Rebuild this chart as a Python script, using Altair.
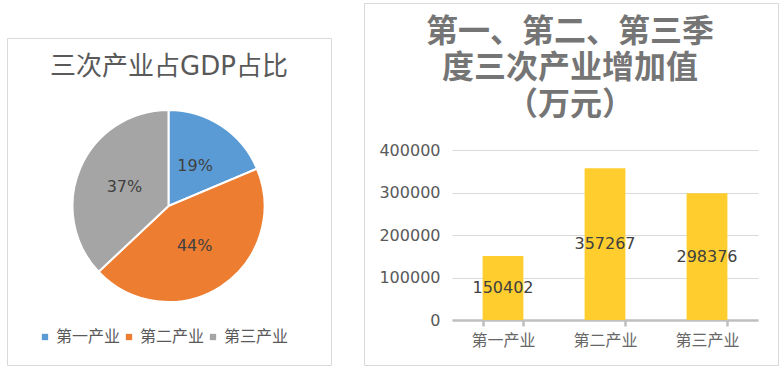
import altair as alt
import pandas as pd

# ---- data ----
categories = ["第一产业", "第二产业", "第三产业"]
values = [150402, 357267, 298376]
pie_colors = ["#5B9BD5", "#ED7D31", "#A5A5A5"]
y_ticks = [0, 100000, 200000, 300000, 400000]
pie_title = "三次产业占GDP占比"
bar_title = ["第一、第二、第三季", "度三次产业增加值", "（万元）"]

df = pd.DataFrame({"cat": categories, "value": values, "idx": list(range(len(categories)))})
one = pd.DataFrame({"k": [0]})

# ---- layout (page pixels -> view pixels) ----
W, H = 306, 170
OX, OY = 452, 150


def px(x):
    return x - OX


def py(y):
    return y - OY


CJK = "Noto Sans CJK SC"
NUM = "DejaVu Sans"

left_box = alt.Chart(one).mark_rect(fillOpacity=0, stroke="#D9D9D9", strokeWidth=1).encode(
    x=alt.value(px(7.5)), x2=alt.value(px(331.5)), y=alt.value(py(38.5)), y2=alt.value(py(365.5))
)
right_box = alt.Chart(one).mark_rect(fillOpacity=0, stroke="#D9D9D9", strokeWidth=1).encode(
    x=alt.value(px(364.5)), x2=alt.value(px(778.5)), y=alt.value(py(3.5)), y2=alt.value(py(365.5))
)

left_title = alt.Chart(one).mark_text(
    fontSize=26, color="#595959", font=f"{NUM}, {CJK}", align="center", baseline="middle"
).encode(x=alt.value(px(169)), y=alt.value(py(67)), text=alt.value(pie_title))

right_title = alt.Chart(one).mark_text(
    fontSize=32, fontWeight="bold", color="#757575", font=CJK, align="center",
    baseline="middle", lineHeight=36.5
).encode(x=alt.value(px(570)), y=alt.value(py(31.5)), text=alt.value(bar_title))

pie_base = alt.Chart(df).transform_joinaggregate(
    total="sum(value)"
).transform_calculate(
    frac="datum.value / datum.total"
).encode(
    theta=alt.Theta("value:Q", stack=True),
    order=alt.Order("idx:Q"),
    x=alt.value(px(168.5)),
    y=alt.value(py(206)),
)

arcs = pie_base.mark_arc(outerRadius=96, stroke="white", strokeWidth=2).encode(
    color=alt.Color(
        "cat:N",
        scale=alt.Scale(domain=categories, range=pie_colors),
        legend=alt.Legend(
            orient="none", legendX=px(37), legendY=py(329), direction="horizontal",
            title=None, symbolType="square", symbolSize=40, symbolStrokeWidth=0,
            labelFontSize=16, labelColor="#595959", labelFont=CJK,
            columnPadding=0, labelOffset=3, padding=0,
        ),
    )
)

pie_labels = pie_base.mark_text(radius=48, fontSize=16, color="#404040", font=NUM).encode(
    text=alt.Text("frac:Q", format=".0%")
)

bars = alt.Chart(df).mark_bar(color="#FFCE2E").encode(
    x=alt.X(
        "cat:N", sort=categories, title=None,
        scale=alt.Scale(paddingInner=0.6, paddingOuter=0.3),
        axis=alt.Axis(
            labelAngle=0, domainColor="#BFBFBF", domainWidth=2.5, tickBand="extent",
            tickColor="#BFBFBF", tickWidth=2.5, tickSize=6, labelFontSize=16,
            labelColor="#666666", labelPadding=6, labelFont=CJK, grid=False,
        ),
    ),
    y=alt.Y(
        "value:Q", title=None, scale=alt.Scale(domain=[0, 400000]),
        axis=alt.Axis(
            values=y_ticks, format="d", grid=True, gridColor="#D9D9D9", gridWidth=1,
            domain=False, ticks=False, labelFontSize=16, labelColor="#595959",
            labelPadding=12, labelFont=NUM,
        ),
    ),
)

bar_labels = alt.Chart(df).transform_calculate(half="datum.value / 2").mark_text(
    fontSize=16, color="#404040", font=NUM, baseline="middle"
).encode(
    x=alt.X("cat:N", sort=categories, title=None),
    y=alt.Y("half:Q", title=None),
    text=alt.Text("value:Q", format="d"),
)

chart = alt.layer(
    left_box, right_box, left_title, right_title, arcs, pie_labels, bars, bar_labels
).properties(
    width=W, height=H,
    autosize=alt.AutoSizeParams(type="none"),
    padding={"left": OX, "top": OY, "right": 783 - OX - W, "bottom": 372 - OY - H},
    background="white",
).configure_view(stroke=None)

chart.save("out.html", embed_options={"renderer": "svg", "actions": False})
